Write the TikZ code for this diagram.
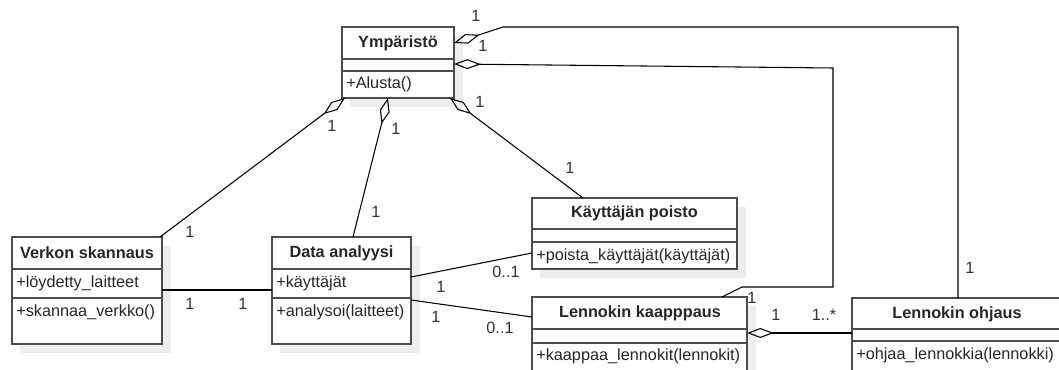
\documentclass[tikz,border=0pt]{standalone}
\usepackage{fontspec}
\setmainfont{Liberation Sans}
\usetikzlibrary{arrows.meta,calc,fit}

\begin{document}
\begin{tikzpicture}[x=0.75pt,y=-0.75pt,
	cls/.style={draw=black!70,line width=0.9pt,fill=white,inner sep=0pt,outer sep=0pt},
	shd/.style={fill=black!7},
	sep/.style={draw=black!70,line width=0.9pt},
	ttl/.style={font=\bfseries\fontsize{12.2}{14}\selectfont,text=black!85},
	mem/.style={anchor=west,inner sep=0pt,font=\fontsize{12.2}{14}\selectfont,text=black!85},
	mult/.style={inner sep=0pt,font=\fontsize{12.2}{14}\selectfont,text=black!80},
	agg/.style={{Diamond[open,length=20pt,width=7.5pt]}-},
	con/.style={draw=black,line width=0.8pt}]
	\clip (0,0) rectangle (1059,370);
	\fill[white] (0,0) rectangle (1059,370);

	% shadows
	\fill[shd] (350,36) rectangle (463,107);
	\fill[shd] (20,246) rectangle (171,353);
	\fill[shd] (280,246) rectangle (420,353);
	\fill[shd] (540,207) rectangle (746,278);
	\fill[shd] (540,306) rectangle (756,385);
	\fill[shd] (860,307) rectangle (1070,385);

	% classes
	\node[cls,fit={(342,27) (454,98)}] (ymp) {};
	\node[cls,fit={(12,237) (162,344)}] (verkko) {};
	\node[cls,fit={(272,237) (411,344)}] (data) {};
	\node[cls,fit={(532,198) (737,269)}] (poisto) {};
	\node[cls,fit={(532,297) (747,380)}] (kaap) {};
	\node[cls,fit={(852,298) (1062,380)}] (ohjaus) {};

	\draw[sep] (ymp.west |- 0,59) -- (ymp.east |- 0,59);
	\draw[sep] (ymp.west |- 0,71) -- (ymp.east |- 0,71);
	\draw[sep] (verkko.west |- 0,269) -- (verkko.east |- 0,269);
	\draw[sep] (verkko.west |- 0,298) -- (verkko.east |- 0,298);
	\draw[sep] (data.west |- 0,269) -- (data.east |- 0,269);
	\draw[sep] (data.west |- 0,298) -- (data.east |- 0,298);
	\draw[sep] (poisto.west |- 0,229) -- (poisto.east |- 0,229);
	\draw[sep] (poisto.west |- 0,242) -- (poisto.east |- 0,242);
	\draw[sep] (kaap.west |- 0,329) -- (kaap.east |- 0,329);
	\draw[sep] (kaap.west |- 0,343) -- (kaap.east |- 0,343);
	\draw[sep] (ohjaus.west |- 0,329) -- (ohjaus.east |- 0,329);
	\draw[sep] (ohjaus.west |- 0,341) -- (ohjaus.east |- 0,341);

	\node[ttl] (ympT) at (398,43) {Ympäristö};
	\node[mem] (ympM) at (346,84) {+Alusta()};
	\node[ttl] (verkkoT) at (87,253) {Verkon skannaus};
	\node[mem] (verkkoA) at (16,283) {+löydetty\_laitteet};
	\node[mem] (verkkoM) at (16,312) {+skannaa\_verkko()};
	\node[ttl] (dataT) at (341.5,253) {Data analyysi};
	\node[mem] (dataA) at (276,283) {+käyttäjät};
	\node[mem] (dataM) at (276,312) {+analysoi(laitteet)};
	\node[ttl] (poistoT) at (634.5,213) {Käyttäjän poisto};
	\node[mem] (poistoM) at (536,256) {+poista\_käyttäjät(käyttäjät)};
	\node[ttl] (kaapT) at (640,313) {Lennokin kaapppaus};
	\node[mem] (kaapM) at (536,356) {+kaappaa\_lennokit(lennokit)};
	\node[ttl] (ohjausT) at (957,314) {Lennokin ohjaus};
	\node[mem] (ohjausM) at (856,355) {+ohjaa\_lennokkia(lennokki)};

	% connectors
	\draw[con,agg] ($(ymp.north east)+(0,16)$) -- ++(49,-16) -| ($(ohjaus.north west)+(106,0)$);
	\draw[con,agg] ($(ymp.north east)+(0,37)$) -- (833,68) |- (742,287) -- ($(kaap.north west)+(190,0)$);
	\draw[con,agg] ($(ymp.south west)+(3,0)$) -- ($(verkko.north east)+(-2,0)$);
	\draw[con,agg] ($(ymp.south west)+(46,0)$) -- ($(data.north west)+(81,0)$);
	\draw[con,agg] ($(ymp.south east)+(-4,0)$) -- ($(poisto.north west)+(51,0)$);
	\draw[con] ($(verkko.north east)+(0,53)$) -- ($(data.north west)+(0,53)$);
	\draw[con] ($(data.north east)+(0,40)$) -- ($(poisto.north west)+(0,55)$);
	\draw[con] ($(data.north east)+(0,63)$) -- ($(kaap.north west)+(0,20)$);
	\draw[con,agg] ($(kaap.north east)+(0,36)$) -- ($(ohjaus.north west)+(0,35)$);

	% multiplicities
	\node[mult] (m1) at (476,16) {1};
	\node[mult] (m2) at (483,46) {1};
	\node[mult] (m3) at (970,268) {1};
	\node[mult] (m4) at (752,298) {1};
	\node[mult] (m5) at (332,126) {1};
	\node[mult] (m6) at (190,232) {1};
	\node[mult] (m7) at (396,129) {1};
	\node[mult] (m8) at (376,212) {1};
	\node[mult] (m9) at (480,102) {1};
	\node[mult] (m10) at (570,168) {1};
	\node[mult] (m11) at (190,304) {1};
	\node[mult] (m12) at (243,304) {1};
	\node[mult] (m13) at (441,287) {1};
	\node[mult] (m14) at (506,272) {0..1};
	\node[mult] (m15) at (436,317) {1};
	\node[mult] (m16) at (500,328) {0..1};
	\node[mult] (m17) at (776,315) {1};
	\node[mult] (m18) at (824,315) {1..*};
\end{tikzpicture}
\end{document}
